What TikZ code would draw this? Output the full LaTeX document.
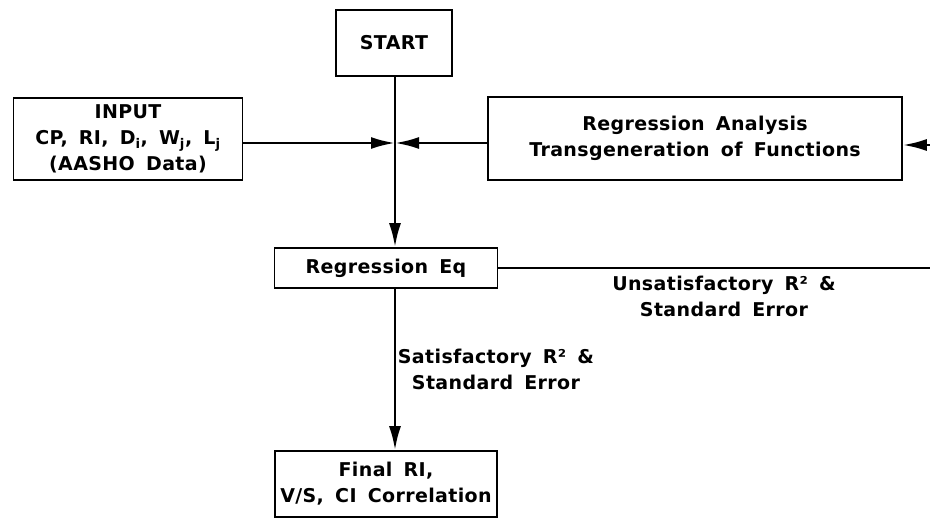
\documentclass[tikz,border=0pt]{standalone}
\usepackage{fontspec}
\setmainfont{DejaVu Sans}[LetterSpace=2, WordSpace=1.6]
\usetikzlibrary{arrows.meta}
\begin{document}
\begin{tikzpicture}[x=1pt,y=-1pt,
  every node/.style={font=\fontsize{19}{26}\selectfont\bfseries, inner sep=0pt},
  box/.style={draw, line width=1.6pt, align=center},
  flow/.style={line width=2.6pt, -{Latex[length=24pt,width=12pt]}},
  plain/.style={line width=2.6pt},
  lbl/.style={align=center}]
  \useasboundingbox (0,0) rectangle (930,519);

  % boxes
  \node[box, minimum width=116pt, minimum height=66pt] (start) at (394,43) {START};
  \node[box, minimum width=229pt, minimum height=82pt] (input) at (128,139)
    {INPUT\\CP, RI, D\textsubscript{i}, W\textsubscript{j}, L\textsubscript{j}\\(AASHO Data)};
  \node[box, minimum width=414pt, minimum height=83pt] (ra) at (695,138.5)
    {Regression Analysis\\Transgeneration of Functions};
  \node[box, minimum width=223pt, minimum height=40pt] (req) at (386,268) {Regression Eq};
  \node[box, minimum width=222pt, minimum height=66pt] (final) at (386,484)
    {Final RI,\\V/S, CI Correlation};

  % junction and loose ends at the right margin
  \coordinate (j) at (395,143);
  \coordinate (rin) at (930,145);
  \coordinate (rout) at (930,268);

  % connectors
  \draw[flow] (start.south -| j) -- (req.north -| j);
  \draw[flow] (input.east |- j) -- (j);
  \draw[flow] (ra.west |- j) -- (j);
  \draw[flow] (rin) -- (rin -| ra.east);
  \draw[plain] (req.east) -- (rout);
  \draw[flow] (req.south -| j) -- (final.north -| j);

  % branch labels
  \node[lbl] (sat) at (496,369) {Satisfactory R² \&\\Standard Error};
  \node[lbl] (unsat) at (724,296) {Unsatisfactory R² \&\\Standard Error};
\end{tikzpicture}
\end{document}
